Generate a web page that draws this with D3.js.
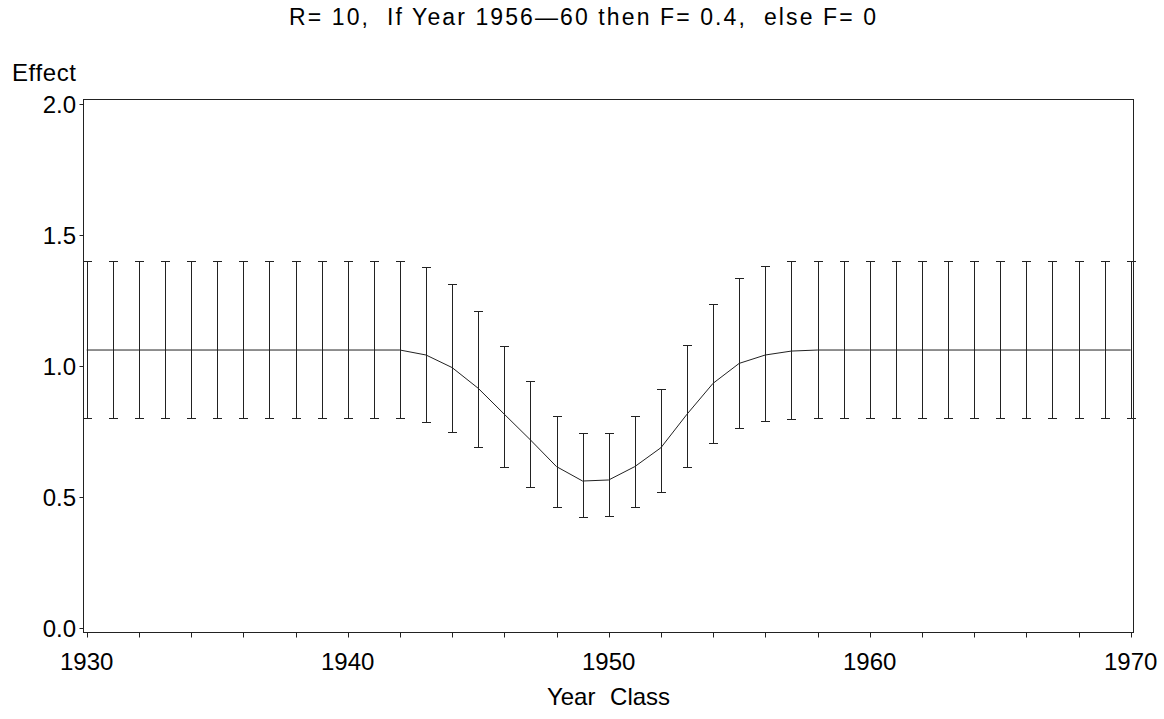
<!DOCTYPE html>
<html>
<head>
<meta charset="utf-8">
<script src="https://cdn.jsdelivr.net/npm/d3@7"></script>
<style>
  html, body { margin: 0; padding: 0; background: #fff; }
  svg text { font-family: "Liberation Sans", Arial, Helvetica, sans-serif; fill: #000; }
</style>
</head>
<body>
<svg id="chart" width="1164" height="719"></svg>
<script>
// Year classes 1930–1970
const years = d3.range(1930, 1971);

// Estimated effect per year class
const effect = [
  1.061, 1.061, 1.061, 1.061, 1.061, 1.061, 1.061, 1.061, 1.061, 1.061,
  1.061, 1.061, 1.061, 1.042, 0.994, 0.915, 0.816, 0.718, 0.616, 0.561,
  0.565, 0.616, 0.688, 0.816, 0.934, 1.010, 1.042, 1.057, 1.061, 1.061,
  1.061, 1.061, 1.061, 1.061, 1.061, 1.061, 1.061, 1.061, 1.061, 1.061,
  1.061
];

// Upper limits of the error bars
const upper = [
  1.402, 1.402, 1.402, 1.402, 1.402, 1.402, 1.402, 1.402, 1.402, 1.402,
  1.402, 1.402, 1.402, 1.379, 1.314, 1.210, 1.078, 0.944, 0.810, 0.743,
  0.745, 0.808, 0.912, 1.080, 1.238, 1.337, 1.382, 1.400, 1.402, 1.402,
  1.402, 1.402, 1.402, 1.402, 1.402, 1.402, 1.402, 1.402, 1.402, 1.402,
  1.402
];

// Lower limits of the error bars
const lower = [
  0.800, 0.800, 0.800, 0.800, 0.800, 0.800, 0.800, 0.800, 0.800, 0.800,
  0.800, 0.800, 0.800, 0.785, 0.747, 0.690, 0.616, 0.539, 0.462, 0.422,
  0.426, 0.462, 0.520, 0.616, 0.706, 0.762, 0.789, 0.798, 0.800, 0.800,
  0.800, 0.800, 0.800, 0.800, 0.800, 0.800, 0.800, 0.800, 0.800, 0.800,
  0.800
];

const yTicks = [0, 0.5, 1.0, 1.5, 2.0];
const xLabelTicks = [1930, 1940, 1950, 1960, 1970];
const xMinorTicks = d3.range(1930, 1971, 2);

const titleText = "R= 10,  If Year 1956\u201460 then F= 0.4,  else F= 0";
const yTitle = "Effect";
const xTitle = "Year Class";

const svg = d3.select("#chart");

// Plot frame and scales
const frame = { left: 83.5, right: 1133.5, top: 99.5, bottom: 632.5 };
const x = d3.scaleLinear().domain([1930, 1970]).range([86.7, 1130.7]);
const y = d3.scaleLinear().domain([0, 2]).range([628, 104]);

svg.append("rect")
  .attr("x", frame.left).attr("y", frame.top)
  .attr("width", frame.right - frame.left)
  .attr("height", frame.bottom - frame.top)
  .attr("fill", "none").attr("stroke", "#222").attr("stroke-width", 1);

// Y axis ticks and labels
const yAxis = svg.append("g");
yTicks.forEach(v => {
  const yy = Math.round(y(v)) + 0.5;
  yAxis.append("line")
    .attr("x1", frame.left - 4).attr("x2", frame.left)
    .attr("y1", yy).attr("y2", yy)
    .attr("stroke", "#222");
  yAxis.append("text")
    .attr("x", 76).attr("y", yy + 8.5)
    .attr("text-anchor", "end")
    .attr("font-size", 24)
    .text(d3.format(".1f")(v));
});

// X axis ticks and labels
const xAxis = svg.append("g");
xMinorTicks.forEach(v => {
  const xx = Math.round(x(v)) + 0.5;
  xAxis.append("line")
    .attr("x1", xx).attr("x2", xx)
    .attr("y1", frame.bottom).attr("y2", frame.bottom + 5)
    .attr("stroke", "#222");
});
xLabelTicks.forEach(v => {
  xAxis.append("text")
    .attr("x", x(v)).attr("y", 670)
    .attr("text-anchor", "middle")
    .attr("font-size", 24)
    .text(v);
});

// Titles
svg.append("text")
  .attr("x", 289).attr("y", 25)
  .attr("font-size", 23)
  .attr("textLength", 587)
  .attr("lengthAdjust", "spacing")
  .style("white-space", "pre")
  .text(titleText);

svg.append("text")
  .attr("x", 12).attr("y", 81)
  .attr("font-size", 24)
  .attr("letter-spacing", 0.6)
  .text(yTitle);

svg.append("text")
  .attr("x", (frame.left + frame.right) / 2).attr("y", 705)
  .attr("text-anchor", "middle")
  .attr("font-size", 24)
  .attr("word-spacing", 8)
  .text(xTitle);

// Error bars
const bars = svg.append("g").attr("stroke", "#222").attr("stroke-width", 1);
years.forEach((yr, i) => {
  const xx = Math.round(x(yr)) + 0.5;
  const yt = Math.round(y(upper[i])) + 0.5;
  const yb = Math.round(y(lower[i])) + 0.5;
  bars.append("line").attr("x1", xx).attr("x2", xx).attr("y1", yt).attr("y2", yb);
  bars.append("line").attr("x1", xx - 4.5).attr("x2", xx + 4.5).attr("y1", yt).attr("y2", yt);
  bars.append("line").attr("x1", xx - 4.5).attr("x2", xx + 4.5).attr("y1", yb).attr("y2", yb);
});

// Effect curve
const line = d3.line()
  .x((d, i) => x(years[i]))
  .y(d => y(d));
svg.append("path")
  .datum(effect)
  .attr("d", line)
  .attr("fill", "none")
  .attr("stroke", "#222")
  .attr("stroke-width", 1);
</script>
</body>
</html>
